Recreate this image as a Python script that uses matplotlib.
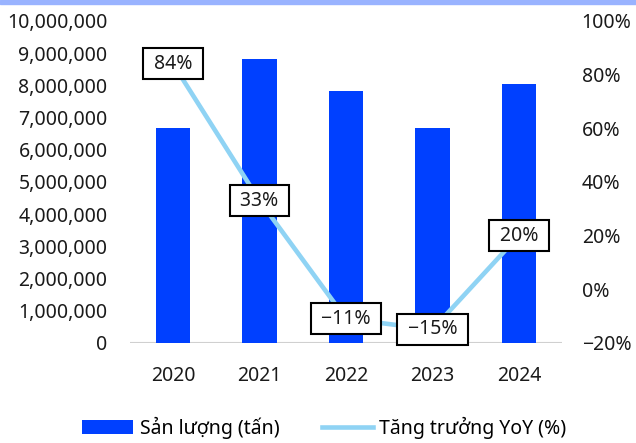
import matplotlib.pyplot as plt
import matplotlib.ticker as mticker
from matplotlib.patches import Rectangle

years = ['2020', '2021', '2022', '2023', '2024']
san_luong = [6660000, 8820000, 7830000, 6680000, 8050000]
tang_truong = [84, 33, -11, -15, 20]
labels = ['84%', '33%', '-11%', '-15%', '20%']

plt.rcParams['font.family'] = ['Noto Sans', 'DejaVu Sans']
fs = 14

fig = plt.figure(figsize=(6.36, 4.43), dpi=100)
ax = fig.add_axes([0.204, 0.226, 0.680, 0.727])
ax2 = ax.twinx()

x = range(len(years))
ax.bar(x, san_luong, width=0.4, color='#0040ff', label='Sản lượng (tấn)', zorder=2)
ax2.plot(x, tang_truong, color='#8fd3f4', lw=3.3, label='Tăng trưởng YoY (%)', zorder=3)

for i, v in enumerate(tang_truong):
    ax2.text(i, v, ' ' + labels[i].replace('-', '\u2212') + ' ', ha='center', va='center', fontsize=fs,
             color='#1a1a1a',
             bbox=dict(boxstyle='square,pad=0.28', fc='white', ec='black', lw=1.5), zorder=4)

ax.set_ylim(0, 10000000)
ax.set_yticks(range(0, 10000001, 1000000))
ax.yaxis.set_major_formatter(mticker.FuncFormatter(lambda v, p: f'{int(v):,}'))
ax2.set_ylim(-20, 100)
ax2.set_yticks(range(-20, 101, 20))
ax2.yaxis.set_major_formatter(mticker.FuncFormatter(lambda v, p: f'{int(v)}%'.replace('-', '\u2212')))
ax.set_xlim(-0.5, 4.5)
ax.set_xticks(list(x))
ax.set_xticklabels(years)

for a in (ax, ax2):
    for s in ['top', 'left', 'right', 'bottom']:
        a.spines[s].set_visible(False)
    a.tick_params(length=0, labelsize=fs, colors='#1a1a1a')
ax.axhline(0, color='#d0d0d0', lw=1.5, zorder=1)
ax.tick_params(axis='y', pad=16)
ax2.tick_params(axis='y', pad=14)
ax.tick_params(axis='x', pad=17)

h1, l1 = ax.get_legend_handles_labels()
h2, l2 = ax2.get_legend_handles_labels()
fig.legend(h1 + h2, l1 + l2, loc='lower center', bbox_to_anchor=(0.51, -0.03), ncol=2,
           frameon=False, fontsize=fs, handlelength=2.6, columnspacing=2.2, handletextpad=0.35)

fig.patches.append(Rectangle((0, 0.99), 1, 0.01, transform=fig.transFigure, color='#99b3ff', zorder=0))

fig.savefig('out.png', dpi=100)
